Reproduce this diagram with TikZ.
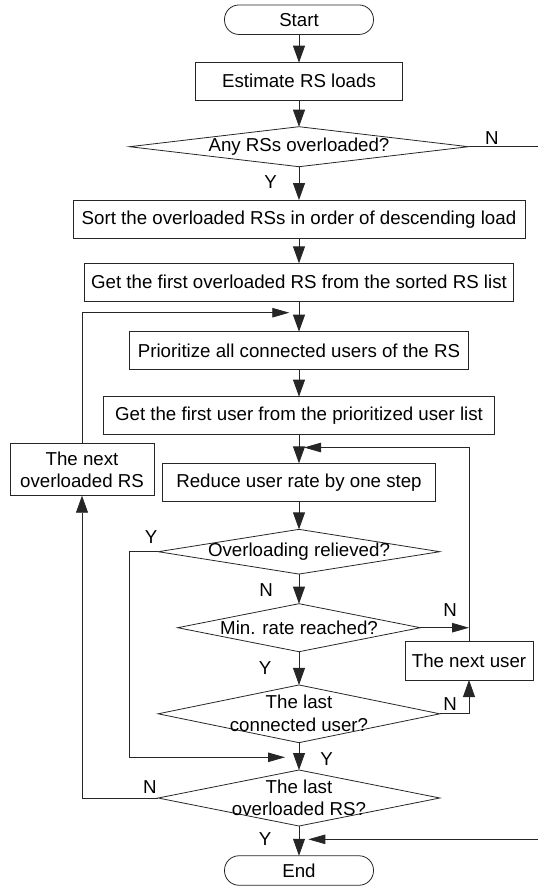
\documentclass[tikz,border=0pt]{standalone}
\usepackage{fontspec}
\setmainfont{Liberation Sans}
\usetikzlibrary{shapes.geometric,arrows.meta}

\begin{document}
\begin{tikzpicture}[x=1pt,y=-1pt,
  every node/.style={font=\fontsize{18.7}{22.3}\selectfont, inner sep=0pt, outer sep=0pt},
  line/.style={draw=black!85, line width=0.8pt},
  boxnode/.style={line, rectangle, align=center},
  term/.style={line, rectangle, rounded corners=14.5pt, minimum width=149pt, minimum height=29.5pt},
  dia/.style={line, diamond},
  ditext/.style={align=center},
  lbl/.style={},
  arr/.style={line, -{Triangle[length=17pt,width=12pt]}},
  harr/.style={line, -{Triangle[length=17pt,width=9.5pt]}}
]
\useasboundingbox (0,0) rectangle (538,887);

% main column
\node[term] (start) at (299,19.7) {Start};
\node[boxnode, minimum width=206.7pt, minimum height=37.3pt] (est) at (299,81.3) {Estimate RS loads};
\node[dia, minimum width=339pt, minimum height=40pt] (any) at (299,146.7) {};
\node[ditext] (anyt) at (299,146.7) {Any RSs overloaded?};
\node[boxnode, minimum width=452.2pt, minimum height=38.3pt] (sort) at (299,219.2) {Sort the overloaded RSs in order of descending load};
\node[boxnode, minimum width=429.3pt, minimum height=37.7pt] (getrs) at (299,282.2) {Get the first overloaded RS from the sorted RS list};
\node[boxnode, minimum width=339.5pt, minimum height=37.7pt] (prio) at (299,350.5) {Prioritize all connected users of the RS};
\node[boxnode, minimum width=391.7pt, minimum height=37.3pt] (getu) at (299,415.3) {Get the first user from the prioritized user list};
\node[boxnode, minimum width=273pt, minimum height=38.3pt] (reduce) at (299,482.5) {Reduce user rate by one step};
\node[dia, minimum width=281.5pt, minimum height=44.7pt] (ovl) at (299,551.7) {};
\node[ditext] (ovlt) at (299,551.7) {Overloading relieved?};
\node[dia, minimum width=242.6pt, minimum height=48pt] (minr) at (299,627.7) {};
\node[ditext] (minrt) at (299,627.7) {Min. rate reached?};
\node[dia, minimum width=281.7pt, minimum height=57.7pt] (lastc) at (299,713.8) {};
\node[ditext] (lastct) at (299,713.3) {The last\\connected user?};
\node[dia, minimum width=281.7pt, minimum height=56pt] (lasto) at (299,798) {};
\node[ditext] (lastot) at (299,797.5) {The last\\overloaded RS?};
\node[term] (end) at (299,870.5) {End};

% side boxes
\node[boxnode, minimum width=144pt, minimum height=52.4pt] (nextrs) at (82,469.5) {The next\\overloaded RS};
\node[boxnode, minimum width=128pt, minimum height=39pt] (nextu) at (469,660.5) {The next user};

% free ends of connectors
\coordinate (anyN) at (538,146.7);
\coordinate (ybend) at (129.3,757.3);
\coordinate (ytip) at (285,757.3);
\coordinate (rtip) at (304,447.5);
\coordinate (ltip) at (289.3,312.7);
\coordinate (ein) at (538,839.3);
\coordinate (etip) at (308.3,839.3);

% main flow
\draw[arr] (start) -- (est);
\draw[arr] (est) -- (any);
\draw[arr] (any) -- (sort);
\draw[line] (any.east) -- (anyN);
\draw[arr] (sort) -- (getrs);
\draw[arr] (getrs) -- (prio);
\draw[arr] (prio) -- (getu);
\draw[arr] (getu) -- (reduce);
\draw[arr] (reduce) -- (ovl);
\draw[arr] (ovl) -- (minr);
\draw[arr] (minr) -- (lastc);
\draw[arr] (lastc) -- (lasto);
\draw[arr] (lasto) -- (end);

% branches and loops
\draw[harr] (ovl.west) -| (ybend) -- (ytip);
\draw[harr] (minr.east) -- (minr.east -| nextu.north);
\draw[arr] (lastc.east) -| (nextu.south);
\draw[harr] (nextu.north) |- (rtip);
\draw[arr] (lasto.west) -| (nextrs.south);
\draw[harr] (nextrs.north) |- (ltip);
\draw[harr] (ein) -- (etip);

% branch labels
\node[lbl] (l1) at (270.7,181.7) {Y};
\node[lbl] (l2) at (491.8,138.3) {N};
\node[lbl] (l3) at (151,537) {Y};
\node[lbl] (l4) at (266,590) {N};
\node[lbl] (l5) at (450,610) {N};
\node[lbl] (l6) at (265,668.3) {Y};
\node[lbl] (l7) at (450,704) {N};
\node[lbl] (l8) at (326.7,759.3) {Y};
\node[lbl] (l9) at (150,787) {N};
\node[lbl] (l10) at (265,839.3) {Y};
\end{tikzpicture}
\end{document}
